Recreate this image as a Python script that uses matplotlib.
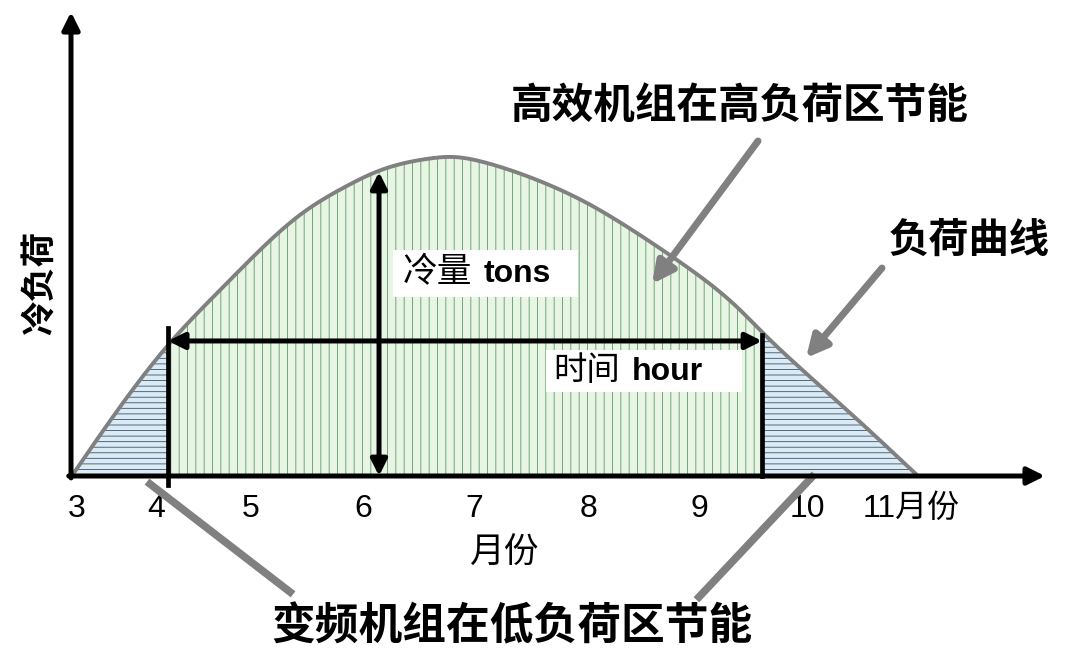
import matplotlib
matplotlib.use("Agg")
import matplotlib.pyplot as plt
import numpy as np
from matplotlib.patches import Rectangle

plt.rcParams['font.family'] = ['Liberation Sans', 'Noto Sans CJK SC', 'DejaVu Sans']
plt.rcParams['hatch.linewidth'] = 0.6

# ---- data (month position, cooling load in % of peak) ----
curve_month = [3.42, 4.293, 4.738, 5.093, 5.449, 5.831, 6.160, 6.578, 6.809, 7.111,
               7.556, 8.000, 8.444, 8.889, 9.333, 9.564, 10.071, 10.516, 10.942]
curve_load = [0.0, 41.6, 58.1, 70.6, 81.6, 90.0, 95.5, 99.1, 99.7, 97.8,
              92.5, 85.3, 75.9, 65.3, 52.8, 44.7, 28.2, 14.0, 0.0]
split_months = [4.276, 9.556]          # boundaries of high-load zone
tick_pos = [3.467, 4.169, 5.013, 6.009, 6.996, 8.009, 8.996, 9.956, 10.88]
tick_labels = ['3', '4', '5', '6', '7', '8', '9', '10', '11月份']
tons_month = 6.151
tons_top = 95.0
hour_load = 42.2

W, H = 1080, 671
fig = plt.figure(figsize=(W / 100, H / 100), dpi=100)
ax = fig.add_axes([71 / W, (H - 476) / H, (1045 - 71) / W, (476 - 12) / H])
xmin, xmax = 3.413, 12.071
ymin, ymax = 0.0, 145.0
ax.set_xlim(xmin, xmax)
ax.set_ylim(ymin, ymax)
for s in ax.spines.values():
    s.set_visible(False)
ax.set_yticks([])
ax.set_xticks(tick_pos, tick_labels)
ax.tick_params(axis='x', length=0, pad=13, labelsize=23)


def natural_spline(x, y, xq):
    x = np.asarray(x, float); y = np.asarray(y, float)
    n = len(x)
    h = np.diff(x)
    A = np.zeros((n, n)); r = np.zeros(n)
    A[0, 0] = A[-1, -1] = 1
    for i in range(1, n - 1):
        A[i, i - 1] = h[i - 1]
        A[i, i] = 2 * (h[i - 1] + h[i])
        A[i, i + 1] = h[i]
        r[i] = 3 * ((y[i + 1] - y[i]) / h[i] - (y[i] - y[i - 1]) / h[i - 1])
    c = np.linalg.solve(A, r)
    b = (y[1:] - y[:-1]) / h - h * (2 * c[:-1] + c[1:]) / 3
    d = (c[1:] - c[:-1]) / (3 * h)
    idx = np.clip(np.searchsorted(x, xq) - 1, 0, n - 2)
    dx = xq - x[idx]
    return y[idx] + b[idx] * dx + c[idx] * dx ** 2 + d[idx] * dx ** 3


cx = np.array(curve_month)
xs = np.linspace(cx[0], cx[-1], 800)
ys = np.clip(natural_spline(curve_month, curve_load, xs), 0, None)

low_l = xs <= split_months[0]
high = (xs >= split_months[0]) & (xs <= split_months[1])
low_r = xs >= split_months[1]

blue_face = '#dcebf3'
blue_hatch = '#35546e'
green_face = '#e8f5e4'
green_hatch = '#5a9a62'
ax.fill_between(xs[low_l], 0, ys[low_l], facecolor=blue_face, edgecolor=blue_hatch,
                hatch='---', linewidth=0, zorder=1)
ax.fill_between(xs[low_r], 0, ys[low_r], facecolor=blue_face, edgecolor=blue_hatch,
                hatch='---', linewidth=0, zorder=1)
ax.fill_between(xs[high], 0, ys[high], facecolor=green_face, edgecolor=green_hatch,
                hatch='||', linewidth=0, zorder=1)

ax.plot(xs, ys, color='#808080', lw=2.8, zorder=3, solid_capstyle='round')

# axes arrows
ax.annotate('', xy=(xmax, 0), xytext=(xmin - 0.02, 0), xycoords='data',
            arrowprops=dict(arrowstyle='-|>', lw=3.6, color='black', mutation_scale=26,
                            shrinkA=0, shrinkB=0), annotation_clip=False, zorder=5)
ax.annotate('', xy=(xmin, ymax), xytext=(xmin, -0.6), xycoords='data',
            arrowprops=dict(arrowstyle='-|>', lw=3.6, color='black', mutation_scale=26,
                            shrinkA=0, shrinkB=0), annotation_clip=False, zorder=5)

# split vertical lines
ax.plot([split_months[0]] * 2, [-2.8, 46.2], color='black', lw=3.4, zorder=4, clip_on=False)
ax.plot([split_months[1]] * 2, [0, 44.0], color='black', lw=3.4, zorder=4, clip_on=False)

# double arrows
ax.annotate('', xy=(split_months[0], hour_load), xytext=(split_months[1], hour_load),
            arrowprops=dict(arrowstyle='<|-|>', lw=3.6, color='black', mutation_scale=24,
                            shrinkA=0, shrinkB=0), zorder=5)
ax.annotate('', xy=(tons_month, tons_top), xytext=(tons_month, 0),
            arrowprops=dict(arrowstyle='<|-|>', lw=3.6, color='black', mutation_scale=24,
                            shrinkA=0, shrinkB=0), zorder=5)


def px2d(px, py):
    return 6 + (px - 362) / 112.5, (476 - py) / 3.2


# white label boxes
x0, y1 = px2d(393, 250); x1, y0 = px2d(578, 297)
ax.add_patch(Rectangle((x0, y0), x1 - x0, y1 - y0, facecolor='white', edgecolor='none', zorder=4))
x0, y1 = px2d(546, 350); x1, y0 = px2d(742, 392)
ax.add_patch(Rectangle((x0, y0), x1 - x0, y1 - y0, facecolor='white', edgecolor='none', zorder=4))

tx, ty = px2d(437, 273)
ax.text(tx, ty, '冷量', fontsize=25, ha='center', va='center', zorder=6,
        family=['Noto Sans CJK SC'])
tx, ty = px2d(517, 274)
ax.text(tx, ty, 'tons', fontsize=23, fontweight='bold', ha='center', va='center', zorder=6)
tx, ty = px2d(587, 371)
ax.text(tx, ty, '时间', fontsize=24, ha='center', va='center', zorder=6,
        family=['Noto Sans CJK SC'])
tx, ty = px2d(667, 372)
ax.text(tx, ty, 'hour', fontsize=23, fontweight='bold', ha='center', va='center', zorder=6)

# gray callout arrows / lines
gray = '#808080'


def garrow(p_tail, p_tip):
    ax.annotate('', xy=px2d(*p_tip), xytext=px2d(*p_tail),
                arrowprops=dict(arrowstyle='-|>', lw=5, color=gray, mutation_scale=32,
                                shrinkA=0, shrinkB=0), annotation_clip=False, zorder=6)


garrow((758, 141), (652, 284))
garrow((882, 268), (806, 358))
a = px2d(150, 484); b = px2d(290, 592)
ax.plot([a[0], b[0]], [a[1], b[1]], color=gray, lw=5.5, clip_on=False, zorder=2)
a = px2d(812, 477); b = px2d(699, 597)
ax.plot([a[0], b[0]], [a[1], b[1]], color=gray, lw=5.5, clip_on=False, zorder=2)

# titles / annotations
tx, ty = px2d(740, 106)
ax.text(tx, ty, '高效机组在高负荷区节能', fontsize=30, fontweight='bold', ha='center',
        va='center', family=['Noto Sans CJK SC'])
tx, ty = px2d(969, 240)
ax.text(tx, ty, '负荷曲线', fontsize=29, fontweight='bold', ha='center', va='center',
        family=['Noto Sans CJK SC'])
tx, ty = px2d(512, 626)
ax.text(tx, ty, '变频机组在低负荷区节能', fontsize=31.5, fontweight='bold', ha='center',
        va='center', family=['Noto Sans CJK SC'])
tx, ty = px2d(505, 553)
ax.text(tx, ty, '月份', fontsize=25, ha='center', va='center', family=['Noto Sans CJK SC'])
tx, ty = px2d(40, 283)
ax.text(tx, ty, '冷负荷', fontsize=25, fontweight='bold', rotation=90, ha='center',
        va='center', family=['Noto Sans CJK SC'])

fig.savefig('out.png', dpi=100)
